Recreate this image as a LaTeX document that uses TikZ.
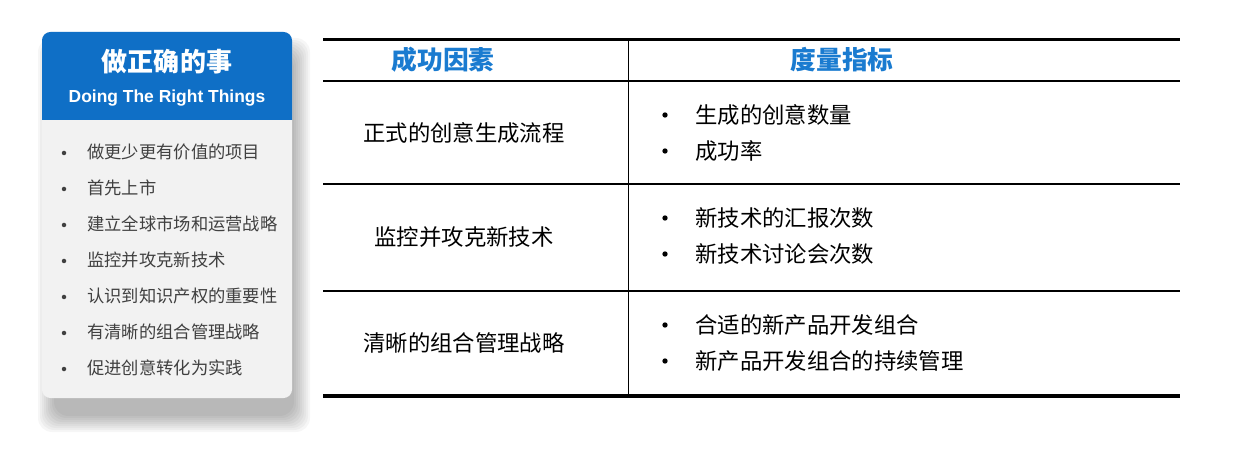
\documentclass[tikz,border=0pt]{standalone}
\usepackage{fontspec}
\setmainfont{Liberation Sans}
\newfontfamily\cjk{Noto Sans CJK SC}
\definecolor{headblue}{HTML}{0F6FC6}
\definecolor{titleblue}{HTML}{1A7BD0}
\definecolor{boxgray}{HTML}{F2F2F2}
\definecolor{itemgray}{HTML}{404040}
\tikzset{
  item/.style = {anchor=west, text=itemgray, inner sep=0pt, font=\fontsize{12.3}{14}\selectfont\cjk},
  cell/.style = {inner sep=0pt, font=\fontsize{15.9}{18}\selectfont\cjk},
  headcell/.style = {inner sep=0pt, text=titleblue, font=\fontsize{18.3}{21}\selectfont\cjk\bfseries},
  dot/.style = {circle, fill, inner sep=0pt, minimum size=#1},
  dot/.default = 3pt
}
\begin{document}
\begin{tikzpicture}[x=0.025cm, y=-0.025cm]
\useasboundingbox (0,0) rectangle (1247,464);

% soft shadow of the left box
\foreach \s in {0,2,...,16} {\fill[black, opacity=0.035, rounded corners=10pt] (54-\s,54-\s) rectangle (294+\s,416+\s);}

% left box
\fill[boxgray, rounded corners=6pt] (42,32) rectangle (292,398);
\begin{scope}
\clip (42,32) rectangle (292,120);
\fill[headblue, rounded corners=6pt] (42,32) rectangle (292,160);
\end{scope}
\node[text=white, inner sep=0pt, font=\fontsize{18.5}{22}\selectfont\cjk\bfseries] (title) at (167,62) {做正确的事};
\node[text=white, inner sep=0pt, font=\fontsize{12.4}{15}\selectfont\bfseries] (subtitle) at (167,98) {Doing The Right Things};

\foreach \t [count=\i] in {做更少更有价值的项目, 首先上市, 建立全球市场和运营战略, 监控并攻克新技术, 认识到知识产权的重要性, 有清晰的组合管理战略, 促进创意转化为实践} {
  \node[dot=3.2pt, fill=itemgray] (b\i) at (64,117+36*\i) {};
  \node[item] (t\i) at (87,116+36*\i) {\t};
}

% table
\draw[line width=2.2pt] (323,39.5) -- (1180,39.5);
\foreach \y in {81, 184, 291} {\draw[line width=1.5pt] (323,\y) -- (1180,\y);}
\draw[line width=2.4pt] (323,396) -- (1180,396);
\draw[line width=1.2pt] (628.5,39.5) -- (628.5,396);

\node[headcell] (h1) at (443,60) {成功因素};
\node[headcell] (h2) at (842,60) {度量指标};

\node[cell] (f1) at (464,133) {正式的创意生成流程};
\node[cell] (f2) at (464,237) {监控并攻克新技术};
\node[cell] (f3) at (464,343) {清晰的组合管理战略};

\foreach \t/\y [count=\i] in {生成的创意数量/115, 成功率/151, 新技术的汇报次数/218, 新技术讨论会次数/254, 合适的新产品开发组合/325, 新产品开发组合的持续管理/361} {
  \node[dot=3.8pt] (m\i) at (665,\y) {};
  \node[cell, anchor=west] (k\i) at (695,\y) {\t};
}

\end{tikzpicture}
\end{document}
